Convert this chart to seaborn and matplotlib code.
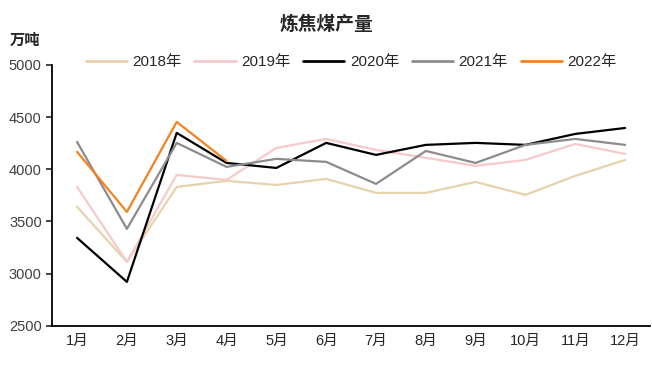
import pandas as pd
import matplotlib
matplotlib.use("Agg")
import matplotlib.pyplot as plt
import seaborn as sns

# data
months = ["1月", "2月", "3月", "4月", "5月", "6月", "7月", "8月", "9月", "10月", "11月", "12月"]
y2018 = [3640, 3113, 3831, 3889, 3850, 3908, 3774, 3774, 3879, 3755, 3937, 4090]
y2019 = [3831, 3113, 3946, 3898, 4205, 4291, 4186, 4110, 4033, 4090, 4243, 4147]
y2020 = [3343, 2921, 4349, 4061, 4013, 4253, 4138, 4234, 4253, 4234, 4339, 4396]
y2021 = [4262, 3429, 4253, 4023, 4100, 4071, 3860, 4176, 4061, 4234, 4291, 4234]
y2022 = [4167, 3592, 4454, 4080]
years = ["2018年", "2019年", "2020年", "2021年", "2022年"]
colors = ["#E6D3AE", "#F7CACA", "#000000", "#8C8C8C", "#F28322"]

rows = []
for name, vals in zip(years, [y2018, y2019, y2020, y2021, y2022]):
    for i, v in enumerate(vals):
        rows.append({"month": i, "value": v, "year": name})
df = pd.DataFrame(rows)

sns.set_style("white")
plt.rcParams['font.family'] = ['Liberation Sans', 'Noto Sans CJK SC']

fig = plt.figure(figsize=(6.52, 3.69), dpi=100)
ax = fig.add_axes([0.08, 0.117, 0.917, 0.707])

sns.lineplot(data=df, x="month", y="value", hue="year", hue_order=years,
             palette=colors, linewidth=1.6, ax=ax)

ax.set_xlim(-0.5, 11.5)
ax.set_ylim(2500, 5000)
ax.set_yticks([2500, 3000, 3500, 4000, 4500, 5000])
ax.set_xticks(range(12))
ax.set_xticklabels(months, fontsize=10.5)
ax.tick_params(axis="y", labelsize=10.5, labelcolor="#404040", length=4, width=1.2, direction="out", left=True)
ax.tick_params(axis="x", length=0, pad=6)
ax.set_xlabel("")
ax.set_ylabel("")
for s in ["top", "right"]:
    ax.spines[s].set_visible(False)
for s in ["left", "bottom"]:
    ax.spines[s].set_color("black")
    ax.spines[s].set_linewidth(1.3)

leg = ax.legend(loc="center", bbox_to_anchor=(0.50, 1.011), ncol=5, frameon=False,
                fontsize=11, handlelength=2.7, columnspacing=0.85, handletextpad=0.35,
                borderpad=0.2)
for line in leg.get_lines():
    line.set_linewidth(2.0)

fig.text(0.5, 0.932, "炼焦煤产量", ha="center", va="center", fontsize=13.5, fontweight="bold")
fig.text(0.015, 0.89, "万吨", va="center", fontsize=11, fontweight="bold")

fig.savefig("out.png", dpi=100)
